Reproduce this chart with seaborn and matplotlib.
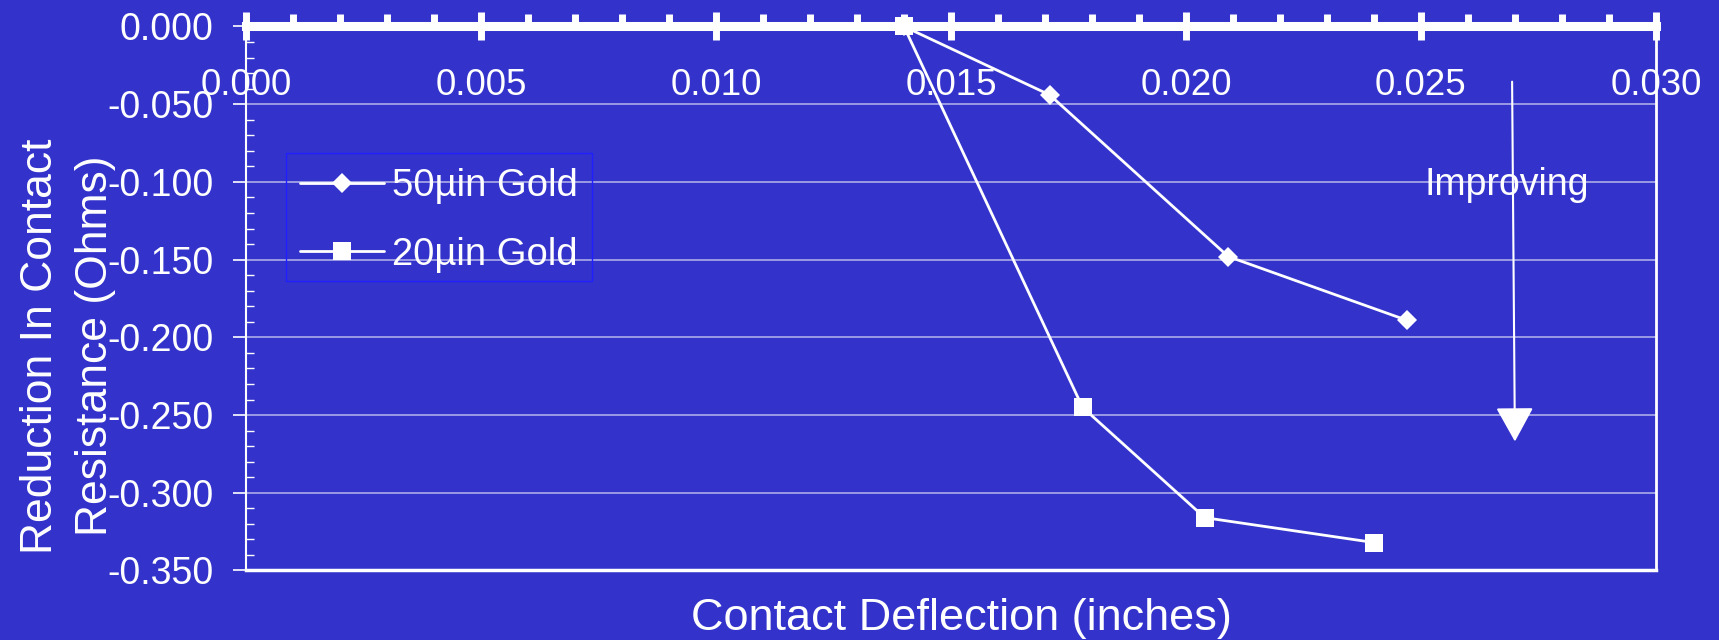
import matplotlib
matplotlib.use("Agg")
import matplotlib.pyplot as plt
import pandas as pd
import seaborn as sns
from matplotlib.patches import Rectangle
from matplotlib.ticker import MultipleLocator, FormatStrFormatter

# Contact deflection (inches) vs. change in contact resistance (Ohms)
deflection_50 = [0.0140, 0.0171, 0.0209, 0.0247]
resistance_50 = [0.000, -0.044, -0.148, -0.189]
deflection_20 = [0.0140, 0.0178, 0.0204, 0.0240]
resistance_20 = [0.000, -0.245, -0.316, -0.332]
series_names = ["50µin Gold", "20µin Gold"]

BG = "#3333CC"
FG = "white"

sns.set_style("ticks", {"axes.facecolor": BG, "figure.facecolor": BG})
plt.rcParams["font.family"] = ["Liberation Sans", "DejaVu Sans"]
plt.rcParams["axes.unicode_minus"] = False

fig = plt.figure(figsize=(17.19, 6.4), dpi=100, facecolor=BG)
ax = fig.add_axes([0.1431, 0.1086, 0.8202, 0.85])
ax.set_facecolor(BG)

df50 = pd.DataFrame({"x": deflection_50, "y": resistance_50})
df20 = pd.DataFrame({"x": deflection_20, "y": resistance_20})

sns.lineplot(data=df50, x="x", y="y", ax=ax, color=FG, marker="D",
             markersize=10.5, markeredgewidth=0, lw=2,
             label=series_names[0], clip_on=False, zorder=5)
sns.lineplot(data=df20, x="x", y="y", ax=ax, color=FG, marker="s",
             markersize=13, markeredgewidth=0, lw=2,
             label=series_names[1], clip_on=False, zorder=5)

ax.set_xlim(0, 0.030)
ax.set_ylim(-0.35, 0)

# spines
for side, lw in {"top": 6.5, "left": 1.5, "right": 2.0, "bottom": 2.5}.items():
    ax.spines[side].set_visible(True)
    ax.spines[side].set_color(FG)
    ax.spines[side].set_linewidth(lw)

# x axis lives on the zero line at the top, labels hang beneath it
ax.xaxis.set_ticks_position("top")
ax.xaxis.set_major_locator(MultipleLocator(0.005))
ax.xaxis.set_minor_locator(MultipleLocator(0.001))
ax.xaxis.set_major_formatter(FormatStrFormatter("%.3f"))
ax.tick_params(axis="x", which="major", direction="inout", length=20, width=5,
               color=FG, labelsize=26.5, labelcolor=FG, pad=-65,
               top=True, bottom=False, labeltop=True, labelbottom=False)
ax.tick_params(axis="x", which="minor", direction="out", length=8.6, width=5,
               color=FG, top=True, bottom=False)

ax.yaxis.set_major_locator(MultipleLocator(0.05))
ax.yaxis.set_minor_locator(MultipleLocator(0.01))
ax.yaxis.set_major_formatter(FormatStrFormatter("%.3f"))
ax.tick_params(axis="y", which="major", direction="out", length=9.4, width=1.2,
               color=FG, labelsize=27, labelcolor=FG, pad=14)
ax.tick_params(axis="y", which="minor", direction="in", length=6, width=1,
               color=FG)

ax.yaxis.grid(True, which="major", color="#c8c8f0", alpha=0.75, lw=1.3)
ax.xaxis.grid(False)

ax.set_xlabel("Contact Deflection (inches)", fontsize=32.5, color=FG)
ax.xaxis.set_label_position("bottom")
ax.xaxis.set_label_coords(0.5075, -0.050)
ax.set_ylabel("Reduction In Contact\nResistance (Ohms)", fontsize=32,
              color=FG, linespacing=1.45)
ax.yaxis.set_label_coords(-0.0922, 0.4127)

# legend with a plain rectangular border
leg = ax.legend(loc="upper left", bbox_to_anchor=(0.0383, 0.739),
                borderaxespad=0, borderpad=0, frameon=False, fontsize=27.5,
                labelcolor=FG, handlelength=2.2, handletextpad=0.2,
                labelspacing=0.84)
ax.add_patch(Rectangle((0.0284, 0.5322), 0.2172, 0.2358, transform=ax.transAxes,
                       fill=False, edgecolor="#1f1fff", lw=1, zorder=6))

# "Improving" arrow
ax.annotate("", xy=(0.0270, -0.267), xytext=(0.02694, -0.0355),
            arrowprops=dict(arrowstyle="-|>,head_length=2.16,head_width=1.19",
                            color=FG, lw=1.5, shrinkA=0, shrinkB=0,
                            mutation_scale=10))
ax.text(0.02682, -0.1084, "Improving", ha="center", va="baseline",
        fontsize=27, color=FG)

fig.savefig("out.png", dpi=100, facecolor=BG)
